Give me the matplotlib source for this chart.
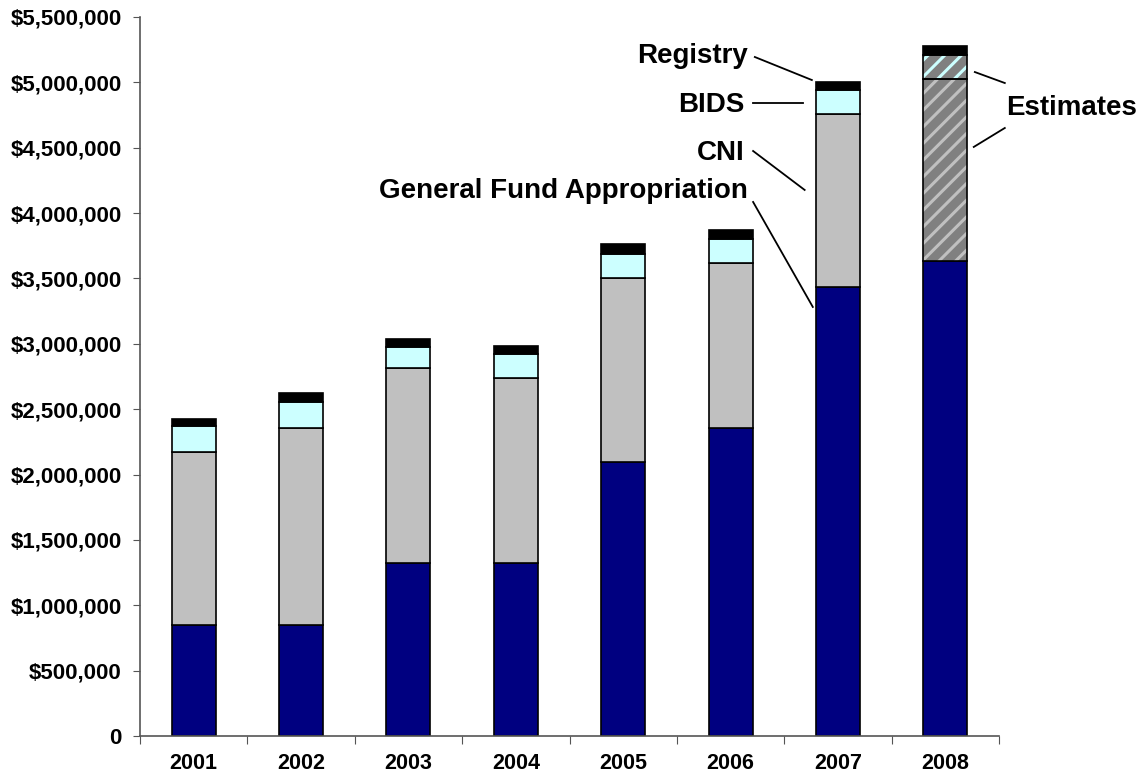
import numpy as np
import matplotlib
matplotlib.use('Agg')
import matplotlib.pyplot as plt
from matplotlib.ticker import FuncFormatter

plt.rcParams['font.family'] = ['Liberation Sans', 'DejaVu Sans']
plt.rcParams['font.weight'] = 'bold'
plt.rcParams['hatch.linewidth'] = 2.2

years = ['2001', '2002', '2003', '2004', '2005', '2006', '2007', '2008']
# stacked values in dollars
general_fund = [850000, 850000, 1323000, 1323000, 2096000, 2356000, 3435000, 3633000]
cni = [1322000, 1506000, 1492000, 1415000, 1407000, 1262000, 1323000, 1393000]
bids = [200000, 200000, 161000, 184000, 184000, 184000, 183000, 183000]
registry = [54000, 70000, 61000, 61000, 76000, 69000, 62000, 69000]
estimated = [False, False, False, False, False, False, False, True]

fig = plt.figure(figsize=(11.41, 7.78), dpi=100)
ax = fig.add_axes([140/1141, 42/778, 859/1141, 719/778])

x = np.arange(len(years))
w = 0.41
b1 = np.array(general_fund)
b2 = b1 + np.array(cni)
b3 = b2 + np.array(bids)

for i in range(len(years)):
    ax.bar(x[i], general_fund[i], w, color='#000080', edgecolor='black', lw=1.2, zorder=2)
    if estimated[i]:
        ax.bar(x[i], cni[i], w, bottom=b1[i], color='#808080', edgecolor='#C0C0C0',
               hatch='//', lw=0, zorder=2)
        ax.bar(x[i], bids[i], w, bottom=b2[i], color='#808080', edgecolor='#CCFFFF',
               hatch='//', lw=0, zorder=2)
        ax.bar(x[i], cni[i], w, bottom=b1[i], fill=False, edgecolor='black', lw=1.2, zorder=3)
        ax.bar(x[i], bids[i], w, bottom=b2[i], fill=False, edgecolor='black', lw=1.2, zorder=3)
    else:
        ax.bar(x[i], cni[i], w, bottom=b1[i], color='#C0C0C0', edgecolor='black', lw=1.2, zorder=2)
        ax.bar(x[i], bids[i], w, bottom=b2[i], color='#CCFFFF', edgecolor='black', lw=1.2, zorder=2)
    ax.bar(x[i], registry[i], w, bottom=b3[i], color='black', edgecolor='black', lw=1.2, zorder=2)

ax.set_xlim(-0.5, len(years) - 0.5)
ax.set_ylim(0, 5500000)
ax.set_yticks(np.arange(0, 5500001, 500000))
ax.yaxis.set_major_formatter(FuncFormatter(lambda v, p: '0' if v == 0 else '${:,.0f}'.format(v)))
ax.set_xticks(np.arange(-0.5, len(years), 1.0))
ax.set_xticklabels([])
ax.set_xticks(x, minor=True)
ax.set_xticklabels(years, minor=True)
ax.tick_params(axis='x', which='minor', length=0, pad=12, labelsize=15.5)
ax.tick_params(axis='x', which='major', length=6, direction='out', color='#555555')
ax.tick_params(axis='y', length=5, direction='out', color='#555555', labelsize=16, pad=8)
for lbl in ax.get_xticklabels(minor=True) + ax.get_yticklabels():
    lbl.set_fontweight('bold')
ax.spines['top'].set_visible(False)
ax.spines['right'].set_visible(False)
ax.spines['left'].set_color('#555555')
ax.spines['bottom'].set_color('#555555')
ax.spines['left'].set_linewidth(1.2)
ax.spines['bottom'].set_linewidth(1.2)

# callout labels for 2007 and estimates for 2008
fs = 20
ax.text(5.161, 5148000, 'Registry', ha='right', va='baseline', fontsize=fs, fontweight='bold')
ax.plot([5.226, 5.757], [5194000, 5018000], color='black', lw=1.3, clip_on=False)
ax.text(5.133, 4773000, 'BIDS', ha='right', va='baseline', fontsize=fs, fontweight='bold')
ax.plot([5.21, 5.673], [4842000, 4842000], color='black', lw=1.3, clip_on=False)
ax.text(5.133, 4406000, 'CNI', ha='right', va='baseline', fontsize=fs, fontweight='bold')
ax.plot([5.21, 5.69], [4475000, 4177000], color='black', lw=1.3, clip_on=False)
ax.text(5.161, 4115000, 'General Fund Appropriation', ha='right', va='baseline',
        fontsize=fs, fontweight='bold')
ax.plot([5.21, 5.766], [4085000, 3282000], color='black', lw=1.3, clip_on=False)
ax.text(7.563, 4750000, 'Estimates', ha='left', va='baseline', fontsize=fs, fontweight='bold')
ax.plot([7.275, 7.554], [5079000, 4995000], color='black', lw=1.3, clip_on=False)
ax.plot([7.554, 7.265], [4651000, 4506000], color='black', lw=1.3, clip_on=False)

fig.savefig('out.png', dpi=100)
